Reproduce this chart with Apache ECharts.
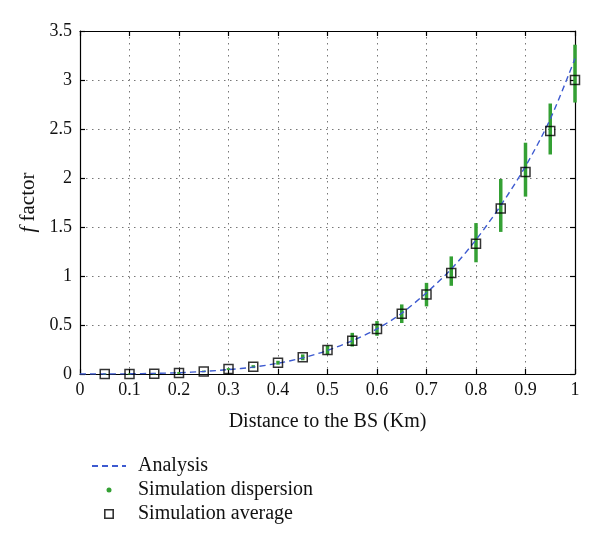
<!DOCTYPE html>
<html>
<head>
<meta charset="utf-8">
<script src="https://cdn.jsdelivr.net/npm/echarts@6/dist/echarts.min.js"></script>
<style>html,body{margin:0;padding:0;background:#fff;}#chart{width:600px;height:546px;}</style>
</head>
<body>
<div id="chart"></div>
<script>
// Distance values (Km)
var simX = [0.05,0.1,0.15,0.2,0.25,0.3,0.35,0.4,0.45,0.5,0.55,0.6,0.65,0.7,0.75,0.8,0.85,0.9,0.95,1.0];
// Simulation average
var simAvg = [0,0,0.003,0.01,0.025,0.05,0.075,0.115,0.17,0.245,0.34,0.46,0.615,0.81,1.03,1.33,1.69,2.06,2.48,3.0];
// Simulation dispersion (low / high)
var dispLow = [0,0,0.001,0.006,0.018,0.04,0.06,0.095,0.14,0.2,0.28,0.39,0.52,0.69,0.9,1.14,1.45,1.81,2.24,2.77];
var dispHigh = [0.001,0.002,0.006,0.015,0.035,0.06,0.09,0.135,0.2,0.29,0.42,0.54,0.71,0.93,1.2,1.54,1.99,2.36,2.76,3.36];
// Analysis curve
var anaX = [0,0.05,0.1,0.15,0.2,0.25,0.3,0.35,0.4,0.45,0.5,0.55,0.6,0.65,0.7,0.75,0.8,0.85,0.9,0.95,1.0];
var anaY = [0,0.0005,0.002,0.006,0.013,0.026,0.045,0.07,0.11,0.165,0.24,0.34,0.46,0.62,0.83,1.07,1.37,1.72,2.12,2.6,3.22];

var seriesNames = ['Analysis','Simulation dispersion','Simulation average'];
var xTitle = 'Distance to the BS (Km)';

var FONT = 'Liberation Serif';
var GREEN = '#34a034';
var BLUE = '#3d5ad0';

var chart = echarts.init(document.getElementById('chart'), null, {renderer:'canvas'});

var gridLine = {show:true, lineStyle:{color:'#777', width:1, type:[1.5,4.5]}};
var axisLine = {show:true, onZero:false, lineStyle:{color:'#000', width:1.2}};
var tick = {show:true, inside:true, length:5, lineStyle:{color:'#000', width:1.2}};
var lbl = {fontFamily:FONT, fontSize:18, color:'#111'};

var option = {
  animation:false,
  backgroundColor:'#fff',
  grid:{left:80, right:25, top:31, bottom:172},
  legend:{
    orient:'vertical', left:86, top:451,
    itemWidth:34, itemHeight:10, itemGap:4,
    textStyle:{fontFamily:FONT, fontSize:20, color:'#111', padding:[0,0,0,7]},
    data:[
      {name:seriesNames[0], itemStyle:{color:'rgba(0,0,0,0)', borderWidth:0, opacity:0}},
      {name:seriesNames[1], icon:'path://M0,0L0,0M10,10L10,10M2.5,5a2.5,2.5 0 1,0 5,0a2.5,2.5 0 1,0 -5,0', itemStyle:{color:GREEN, borderWidth:0}},
      {name:seriesNames[2], icon:'path://M0,0H10V10H0ZM1.6,1.6V8.4H8.4V1.6Z', itemStyle:{color:'#000', borderWidth:0}}
    ]
  },
  xAxis:[
    {type:'value', min:0, max:1, interval:0.1, position:'bottom',
     name:xTitle, nameLocation:'middle', nameGap:38,
     nameTextStyle:{fontFamily:FONT, fontSize:20, color:'#111'},
     axisLine:axisLine, axisTick:tick, splitLine:gridLine,
     axisLabel:Object.assign({margin:7}, lbl)},
    {type:'value', min:0, max:1, interval:0.1, position:'top',
     axisLine:axisLine, axisTick:tick, splitLine:{show:false}, axisLabel:{show:false}}
  ],
  yAxis:[
    {type:'value', min:0, max:3.5, interval:0.5, position:'left',
     name:'{i|f} factor', nameLocation:'middle', nameGap:40, nameRotate:90,
     nameTextStyle:{fontFamily:FONT, fontSize:21, color:'#111',
       rich:{i:{fontFamily:FONT, fontStyle:'italic', fontSize:21, color:'#111'}}},
     axisLine:axisLine, axisTick:tick, splitLine:gridLine,
     axisLabel:Object.assign({margin:8}, lbl)},
    {type:'value', min:0, max:3.5, interval:0.5, position:'right',
     axisLine:axisLine, axisTick:tick, splitLine:{show:false}, axisLabel:{show:false}}
  ],
  series:[
    {
      name:seriesNames[0], type:'line', smooth:0.3, symbol:'none', z:3,
      data:anaX.map(function(x,i){return [x, anaY[i]];}),
      lineStyle:{color:BLUE, width:1.4, type:[6,4]},
      itemStyle:{color:BLUE}
    },
    {
      name:seriesNames[1], type:'custom', z:2,
      itemStyle:{color:GREEN},
      data:simX.map(function(x,i){return [x, dispLow[i], dispHigh[i]];}),
      renderItem:function(params, api){
        var p1 = api.coord([api.value(0), api.value(1)]);
        var p2 = api.coord([api.value(0), api.value(2)]);
        if (Math.abs(p1[1]-p2[1]) < 1) { p1[1] += 0.5; p2[1] -= 0.5; }
        return {type:'line', shape:{x1:p1[0], y1:p1[1], x2:p2[0], y2:p2[1]},
                style:{stroke:GREEN, lineWidth:3.5}};
      }
    },
    {
      name:seriesNames[2], type:'scatter', symbol:'rect', symbolSize:9, z:4,
      data:simX.map(function(x,i){return [x, simAvg[i]];}),
      itemStyle:{color:'rgba(0,0,0,0)', borderColor:'#000', borderWidth:1.5}
    }
  ]
};
chart.setOption(option);
</script>
</body>
</html>
